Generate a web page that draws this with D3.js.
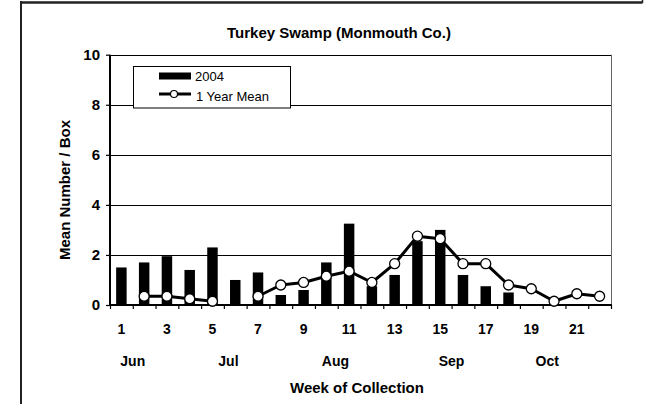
<!DOCTYPE html>
<html>
<head>
<meta charset="utf-8">
<script src="https://cdn.jsdelivr.net/npm/d3@7"></script>
<style>
  html, body { margin: 0; padding: 0; background: #fff; }
  svg { display: block; }
  text { font-family: Arial, "Liberation Sans", sans-serif; }
</style>
</head>
<body>
<svg id="chart" width="652" height="404"></svg>
<script>
// ---- data ----
const weeks = d3.range(1, 23);
const bars2004 = [1.5, 1.7, 1.95, 1.4, 2.3, 1.0, 1.3, 0.4, 0.6, 1.7, 3.25, 0.75, 1.2, 2.55, 3.0, 1.2, 0.75, 0.5, 0, 0, 0, 0];
const yearMean = [null, 0.35, 0.35, 0.25, 0.15, null, 0.35, 0.8, 0.9, 1.15, 1.35, 0.9, 1.65, 2.75, 2.65, 1.65, 1.65, 0.8, 0.65, 0.15, 0.45, 0.35];
const xTickLabels = [1, 3, 5, 7, 9, 11, 13, 15, 17, 19, 21];
const yTicks = [0, 2, 4, 6, 8, 10];
const months = ["Jun", "Jul", "Aug", "Sep", "Oct"];
const monthWeek = [1.5, 5.7, 10.4, 15.5, 19.7];
const title = "Turkey Swamp (Monmouth Co.)";
const yTitle = "Mean Number / Box";
const xTitle = "Week of Collection";
const legendLabels = ["2004", "1 Year Mean"];

// ---- layout ----
const svg = d3.select("#chart");
const L = 110, R = 611, T = 54.7, B = 305;

const x = d3.scaleBand().domain(weeks).range([L, R]).paddingInner(0.54).paddingOuter(0.27);
const xc = d3.scaleLinear().domain([0.5, 22.5]).range([L, R]);
const y = d3.scaleLinear().domain([0, 10]).range([B, T]);

// outer frame bits
svg.append("line").attr("x1", 20).attr("x2", 642.5).attr("y1", 2.5).attr("y2", 2.5)
  .attr("stroke", "#222").attr("stroke-width", 2.5);
svg.append("line").attr("x1", 642.5).attr("x2", 642.5).attr("y1", 0).attr("y2", 3)
  .attr("stroke", "#222").attr("stroke-width", 1.5);
svg.append("line").attr("x1", 21).attr("x2", 21).attr("y1", 1).attr("y2", 404)
  .attr("stroke", "#222").attr("stroke-width", 2);

// gridlines
svg.append("g").selectAll("line").data([2, 4, 6, 8]).join("line")
  .attr("x1", L).attr("x2", R)
  .attr("y1", d => Math.round(y(d)) + 0.5).attr("y2", d => Math.round(y(d)) + 0.5)
  .attr("stroke", "#000").attr("stroke-width", 1);
// top border
svg.append("line").attr("x1", L).attr("x2", R).attr("y1", Math.round(y(10)) + 0.5).attr("y2", Math.round(y(10)) + 0.5)
  .attr("stroke", "#000").attr("stroke-width", 1.2);
// right border
svg.append("line").attr("x1", R + 0.5).attr("x2", R + 0.5).attr("y1", y(10)).attr("y2", B)
  .attr("stroke", "#666").attr("stroke-width", 1);

// bars
svg.append("g").selectAll("rect").data(weeks.map((w, i) => ({ w, v: bars2004[i] })).filter(d => d.v > 0)).join("rect")
  .attr("x", d => x(d.w)).attr("width", x.bandwidth())
  .attr("y", d => y(d.v)).attr("height", d => y(0) - y(d.v))
  .attr("fill", "#000");

// y axis
const yAxis = d3.axisLeft(y).tickValues(yTicks).tickSize(4).tickPadding(6).tickFormat(d3.format("d"));
const gy = svg.append("g").attr("transform", `translate(${L},0)`).call(yAxis);
gy.select(".domain").attr("stroke-width", 2).attr("d", `M0,${y(10)}V${B + 1}`);
gy.selectAll(".tick line").attr("stroke-width", 1.2);
gy.selectAll("text").attr("font-size", 15).attr("font-weight", "bold").attr("fill", "#000");

// x axis: ticks at band edges
const xAxis = d3.axisBottom(xc).tickValues(d3.range(0.5, 23, 1)).tickSize(4).tickFormat("");
const gx = svg.append("g").attr("transform", `translate(0,${B})`).call(xAxis);
gx.select(".domain").attr("stroke-width", 2).attr("d", `M${L - 1},0H${R + 1}`);
gx.selectAll(".tick line").attr("stroke-width", 1.2);

// x tick labels
svg.append("g").selectAll("text").data(xTickLabels).join("text")
  .attr("x", d => x(d) + x.bandwidth() / 2).attr("y", 334)
  .attr("text-anchor", "middle").attr("font-size", 14).attr("font-weight", "bold")
  .text(d => d);

// month labels
svg.append("g").selectAll("text").data(months).join("text")
  .attr("x", (d, i) => xc(monthWeek[i])).attr("y", 366)
  .attr("text-anchor", "middle").attr("font-size", 14).attr("font-weight", "bold")
  .text(d => d);

// mean line
const pts = weeks.map((w, i) => ({ w, v: yearMean[i] }));
const line = d3.line().defined(d => d.v !== null)
  .x(d => x(d.w) + x.bandwidth() / 2).y(d => y(d.v));
svg.append("path").datum(pts).attr("d", line)
  .attr("fill", "none").attr("stroke", "#000").attr("stroke-width", 3).attr("stroke-linejoin", "round");
svg.append("g").selectAll("circle").data(pts.filter(d => d.v !== null)).join("circle")
  .attr("cx", d => x(d.w) + x.bandwidth() / 2).attr("cy", d => y(d.v)).attr("r", 5)
  .attr("fill", "#fff").attr("stroke", "#000").attr("stroke-width", 1.3);

// titles
svg.append("text").attr("x", 339).attr("y", 38).attr("text-anchor", "middle")
  .attr("font-size", 15).attr("font-weight", "bold").text(title);
svg.append("text").attr("transform", `translate(70,190) rotate(-90)`).attr("text-anchor", "middle")
  .attr("font-size", 15).attr("font-weight", "bold").text(yTitle);
svg.append("text").attr("x", 357).attr("y", 393).attr("text-anchor", "middle")
  .attr("font-size", 15).attr("font-weight", "bold").text(xTitle);

// legend
const lg = svg.append("g");
lg.append("rect").attr("x", 133.5).attr("y", 66.5).attr("width", 157).attr("height", 41.5)
  .attr("fill", "#fff").attr("stroke", "#000").attr("stroke-width", 1);
lg.append("rect").attr("x", 159).attr("y", 72.5).attr("width", 32).attr("height", 7).attr("fill", "#000");
lg.append("text").attr("x", 195).attr("y", 81).attr("font-size", 13).text(legendLabels[0]);
lg.append("line").attr("x1", 159).attr("x2", 191).attr("y1", 94).attr("y2", 94)
  .attr("stroke", "#000").attr("stroke-width", 3);
lg.append("circle").attr("cx", 174).attr("cy", 94).attr("r", 3.5)
  .attr("fill", "#fff").attr("stroke", "#000").attr("stroke-width", 1.2);
lg.append("text").attr("x", 196).attr("y", 101).attr("font-size", 13).text(legendLabels[1]);
</script>
</body>
</html>
